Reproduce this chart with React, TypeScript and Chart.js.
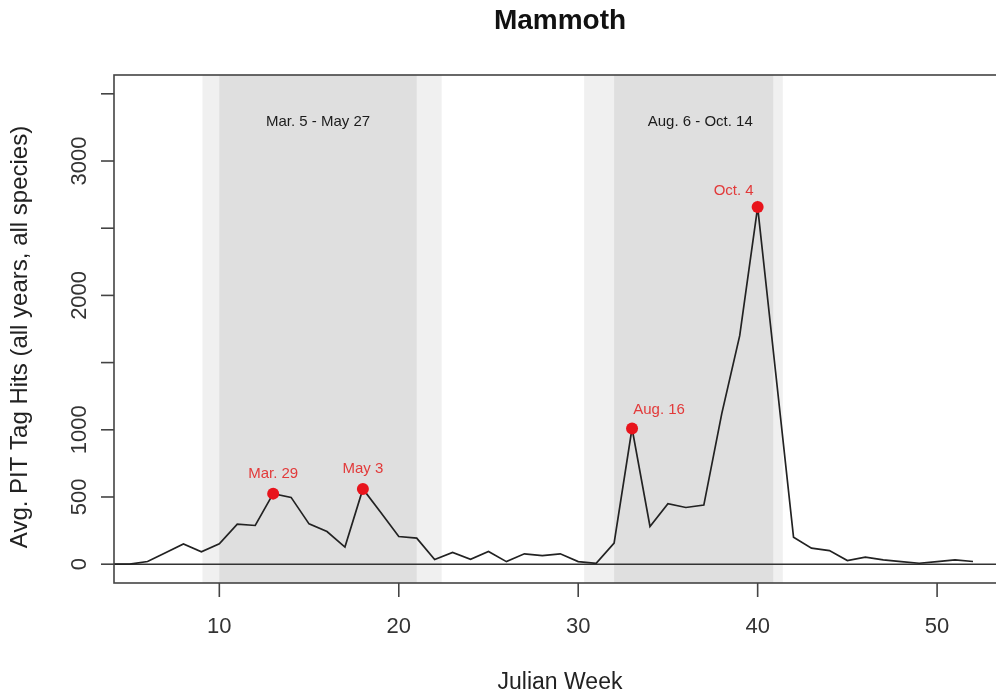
import { useEffect, useRef } from 'react';
import { Chart, registerables } from 'chart.js';

Chart.register(...registerables);

const weeks = [4, 5, 6, 7, 8, 9, 10, 11, 12, 13, 14, 15, 16, 17, 18, 19, 20, 21, 22, 23, 24, 25, 26, 27, 28, 29, 30, 31, 32, 33, 34, 35, 36, 37, 38, 39, 40, 41, 42, 43, 44, 45, 46, 47, 48, 49, 50, 51, 52];
const hits = [0, 0, 20, 85, 151, 92, 151, 298, 288, 525, 497, 300, 243, 127, 560, 385, 206, 194, 35, 87, 37, 94, 19, 77, 64, 77, 19, 7, 157, 1010, 281, 450, 422, 440, 1120, 1700, 2657, 1430, 200, 119, 101, 27, 52, 32, 19, 7, 19, 32, 20];

const peakWeeks = [13, 18, 33, 40];
const peakHits = [525, 560, 1010, 2657];
const peakLabels = ['Mar. 29', 'May 3', 'Aug. 16', 'Oct. 4'];
const peakLabelOffsets = [[0, -20], [0, -20], [27, -19], [-24, -16]];

const windowLabels = ['Mar. 5 - May 27', 'Aug. 6 - Oct. 14'];
const windowLabelWeeks = [15.5, 36.8];
const windowLabelValue = 3290;

const outerBands = [[9.06, 22.39], [30.33, 41.4]];
const innerBands = [[10, 21], [32, 40.87]];

const yTicks = [0, 500, 1000, 1500, 2000, 2500, 3000, 3500];
const yTickLabels = ['0', '500', '1000', '', '2000', '', '3000', ''];
const xTicks = [10, 20, 30, 40, 50];

const titleText = 'Mammoth';
const xTitle = 'Julian Week';
const yTitle = 'Avg. PIT Tag Hits (all years, all species)';

const FONT = '"Liberation Sans", Arial, Helvetica, sans-serif';

const rPlot = {
  id: 'rplot',
  beforeDatasetsDraw(chart: any) {
    const { ctx, chartArea: a, scales } = chart;
    const x = scales.x, y = scales.y;
    ctx.save();
    ctx.beginPath();
    ctx.rect(a.left, a.top, a.right - a.left, a.bottom - a.top);
    ctx.clip();
    ctx.fillStyle = '#f0f0f0';
    outerBands.forEach(([s, e]) => {
      const x0 = x.getPixelForValue(s), x1 = x.getPixelForValue(e);
      ctx.fillRect(x0, a.top, x1 - x0, a.bottom - a.top);
    });
    ctx.fillStyle = '#dfdfdf';
    innerBands.forEach(([s, e]) => {
      const x0 = x.getPixelForValue(s), x1 = x.getPixelForValue(e);
      ctx.fillRect(x0, a.top, x1 - x0, a.bottom - a.top);
    });
    const y0 = y.getPixelForValue(0);
    ctx.strokeStyle = '#333';
    ctx.lineWidth = 1.6;
    ctx.beginPath();
    ctx.moveTo(a.left, y0);
    ctx.lineTo(a.right, y0);
    ctx.stroke();
    ctx.restore();
  },
  afterDatasetsDraw(chart: any) {
    const { ctx, chartArea: a, scales } = chart;
    const x = scales.x, y = scales.y;
    ctx.save();
    ctx.fillStyle = '#1c1c1c';
    ctx.font = `15px ${FONT}`;
    ctx.textAlign = 'center';
    ctx.textBaseline = 'middle';
    windowLabels.forEach((t, i) => {
      ctx.fillText(t, x.getPixelForValue(windowLabelWeeks[i]), y.getPixelForValue(windowLabelValue));
    });
    ctx.fillStyle = '#e23a3a';
    peakLabels.forEach((t, i) => {
      const px = x.getPixelForValue(peakWeeks[i]) + peakLabelOffsets[i][0];
      const py = y.getPixelForValue(peakHits[i]) + peakLabelOffsets[i][1];
      ctx.fillText(t, px, py);
    });
    ctx.strokeStyle = '#444';
    ctx.lineWidth = 1.6;
    ctx.strokeRect(a.left, a.top, a.right - a.left, a.bottom - a.top);
    ctx.fillStyle = '#333';
    ctx.font = `22px ${FONT}`;
    yTicks.forEach((v, i) => {
      const py = y.getPixelForValue(v);
      ctx.beginPath();
      ctx.moveTo(a.left, py);
      ctx.lineTo(a.left - 13, py);
      ctx.stroke();
      if (yTickLabels[i]) {
        ctx.save();
        ctx.translate(80, py);
        ctx.rotate(-Math.PI / 2);
        ctx.textAlign = 'center';
        ctx.textBaseline = 'middle';
        ctx.fillText(yTickLabels[i], 0, 0);
        ctx.restore();
      }
    });
    xTicks.forEach((v) => {
      const px = x.getPixelForValue(v);
      ctx.beginPath();
      ctx.moveTo(px, a.bottom);
      ctx.lineTo(px, a.bottom + 14);
      ctx.stroke();
      ctx.textAlign = 'center';
      ctx.textBaseline = 'middle';
      ctx.fillText(String(v), px, 627);
    });
    const cx = (a.left + a.right) / 2;
    ctx.fillStyle = '#222';
    ctx.font = `23px ${FONT}`;
    ctx.fillText(xTitle, cx, 683);
    ctx.save();
    ctx.translate(20, (a.top + a.bottom) / 2 + 8);
    ctx.rotate(-Math.PI / 2);
    ctx.font = `24px ${FONT}`;
    ctx.fillText(yTitle, 0, 0);
    ctx.restore();
    ctx.fillStyle = '#111';
    ctx.font = `bold 28px ${FONT}`;
    ctx.fillText(titleText, cx, 21);
    ctx.restore();
  },
};

export default function App() {
  const ref = useRef<HTMLCanvasElement | null>(null);
  useEffect(() => {
    if (!ref.current) return;
    const chart = new Chart(ref.current, {
      type: 'line',
      data: {
        datasets: [
          {
            data: weeks.map((w, i) => ({ x: w, y: hits[i] })),
            borderColor: '#222',
            borderWidth: 1.7,
            pointRadius: 0,
            tension: 0,
            order: 2,
          },
          {
            data: peakWeeks.map((w, i) => ({ x: w, y: peakHits[i] })),
            showLine: false,
            pointRadius: 6,
            pointBackgroundColor: '#e8141c',
            pointBorderColor: '#e8141c',
            pointBorderWidth: 0,
            order: 1,
          },
        ],
      },
      options: {
        animation: false,
        responsive: false,
        devicePixelRatio: 1,
        layout: { padding: { left: 114, right: 6, top: 75, bottom: 113 } },
        plugins: { legend: { display: false }, tooltip: { enabled: false }, title: { display: false } },
        events: [],
        scales: {
          x: { type: 'linear', min: 4.13, max: 53.84, display: false },
          y: { type: 'linear', min: -140, max: 3640, display: false },
        },
      },
      plugins: [rPlot],
    });
    return () => chart.destroy();
  }, []);
  return (
    <div style={{ position: 'fixed', left: 0, top: 0, width: 996, height: 696, overflow: 'hidden', background: '#fff' }}>
      <canvas ref={ref} width={1012} height={696} style={{ width: 1012, height: 696, display: 'block' }} />
    </div>
  );
}
